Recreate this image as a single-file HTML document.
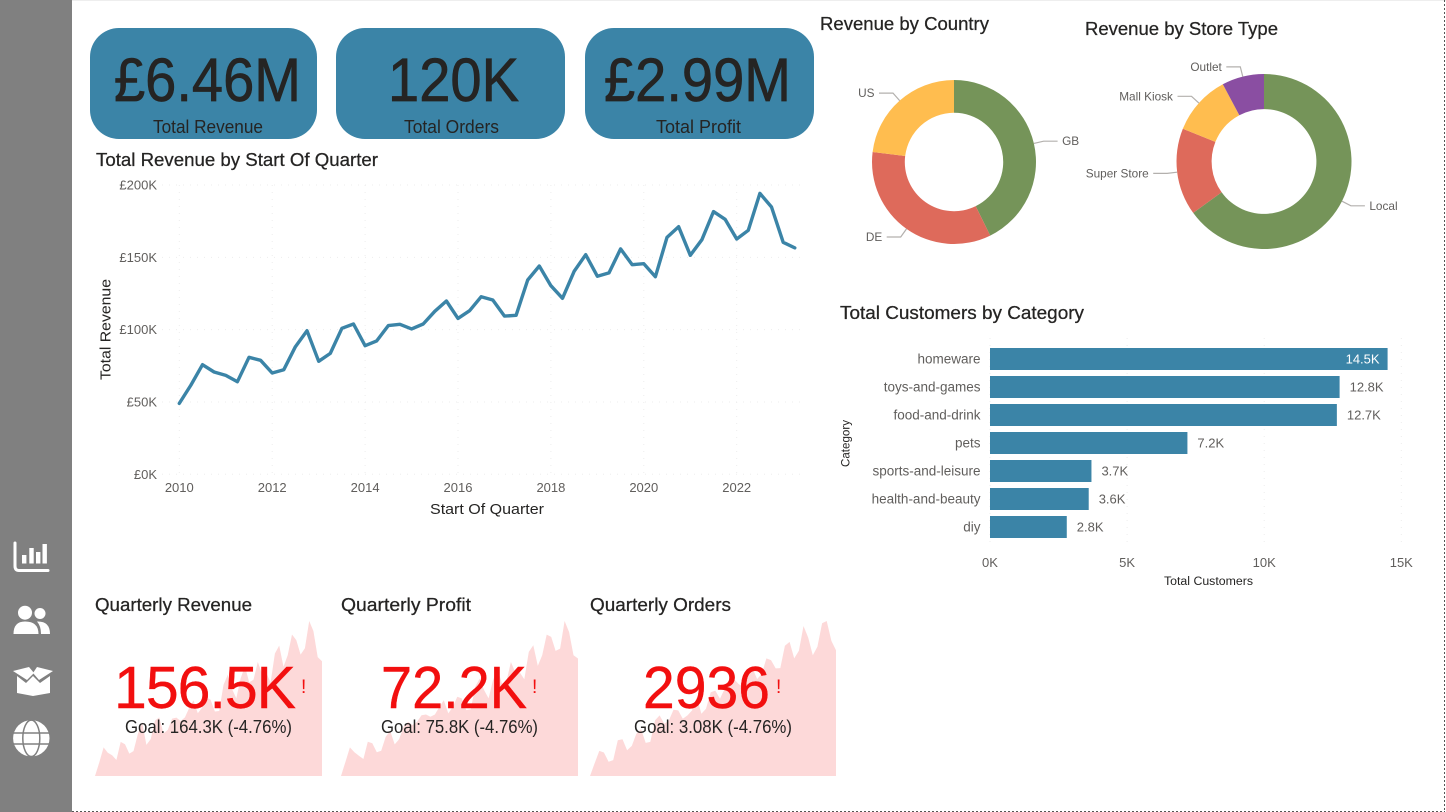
<!DOCTYPE html>
<html lang="en">
<head>
<meta charset="utf-8">
<title>Sales Dashboard</title>
<style>
html,body{margin:0;padding:0;background:#fff;width:1446px;height:812px;overflow:hidden}
svg{display:block;font-family:"Liberation Sans",Arial,sans-serif}
.title{font-size:18px;fill:#252423;stroke:#252423;stroke-width:.25px}
.tick{font-size:13px;fill:#605e5c}
.axis-title{font-size:15px;fill:#252423}
.card-value{font-size:61px;fill:#252423;stroke:#252423;stroke-width:.7px}
.card-label{font-size:18px;fill:#252423}
.kpi-value{font-size:59px;fill:#f20f0f;stroke:#f20f0f;stroke-width:.4px}
.kpi-goal{font-size:18px;fill:#252423}
.kpi-alert{font-size:19px;fill:#f20f0f}
.donut-label{font-size:11.8px;fill:#605e5c}
.cat-label{font-size:13.5px;fill:#605e5c}
</style>
</head>
<body>
<svg id="root" width="1446" height="812" viewBox="0 0 1446 812" xmlns="http://www.w3.org/2000/svg">
  <rect x="0" y="0" width="1446" height="812" fill="#ffffff"/>
  <rect x="72" y="0" width="1374" height="1" fill="#eeeeee"/>
  <rect x="0" y="0" width="72" height="812" fill="#808080"/>
  <line x1="72" y1="811.5" x2="1445" y2="811.5" stroke="#555" stroke-width="1" stroke-dasharray="2 2"/>
  <line x1="1444.5" y1="0" x2="1444.5" y2="812" stroke="#555" stroke-width="1" stroke-dasharray="2 2"/>

  <g>
    <path d="M15 543V566Q15 570.5 19 570.5H48" fill="none" stroke="#fff" stroke-width="3" stroke-linecap="round"/>
    <rect x="22" y="555" width="4.4" height="8.5" fill="#fff"/>
    <rect x="29.3" y="548" width="4.4" height="15.5" fill="#fff"/>
    <rect x="36" y="552" width="4.4" height="11.5" fill="#fff"/>
    <rect x="42.5" y="544" width="4.4" height="19.5" fill="#fff"/>
  </g>
  <g>
    <circle cx="40" cy="613.5" r="5.5" fill="#fff"/>
    <path d="M37 621.5Q50 621 50 634H41Q41 626 37 621.5Z" fill="#fff"/>
    <circle cx="25" cy="612.7" r="7" fill="#fff"/>
    <path d="M13.5 634Q13.5 621.5 25 621.5Q38.5 621.5 38.5 634Z" fill="#fff"/>
  </g>
  <g>
    <path d="M13 671L29 667L34 673L27 680Z" fill="#fff"/>
    <path d="M53 671L37 667L33 673L39 680Z" fill="#fff"/>
    <path d="M17 676L26 683L33 676L40 683L50 676V693L33 696L17 693Z" fill="#fff"/>
  </g>
  <g>
    <circle cx="31.3" cy="738.3" r="18.2" fill="#fff"/>
    <ellipse cx="31.3" cy="738.3" rx="8.5" ry="18.2" fill="none" stroke="#808080" stroke-width="1.5"/>
    <line x1="12" y1="733" x2="50" y2="733" stroke="#808080" stroke-width="1.5"/>
    <line x1="12" y1="744" x2="50" y2="744" stroke="#808080" stroke-width="1.5"/>
  </g>

  <rect x="90" y="28" width="227" height="111" rx="29" fill="#3b84a7"/>
  <rect x="336" y="28" width="229" height="111" rx="29" fill="#3b84a7"/>
  <rect x="585" y="28" width="229" height="111" rx="29" fill="#3b84a7"/>
  <text class="card-value" x="114" y="101" textLength="187" lengthAdjust="spacingAndGlyphs">£6.46M</text>
  <text class="card-value" x="388" y="101" textLength="131" lengthAdjust="spacingAndGlyphs">120K</text>
  <text class="card-value" x="604" y="101" textLength="187" lengthAdjust="spacingAndGlyphs">£2.99M</text>
  <text class="card-label" x="153" y="133" textLength="110" lengthAdjust="spacingAndGlyphs">Total Revenue</text>
  <text class="card-label" x="404" y="133" textLength="95" lengthAdjust="spacingAndGlyphs">Total Orders</text>
  <text class="card-label" x="656" y="133" textLength="85" lengthAdjust="spacingAndGlyphs">Total Profit</text>

  <text class="title" x="96" y="166" textLength="282" lengthAdjust="spacingAndGlyphs">Total Revenue by Start Of Quarter</text>
  <text class="title" x="820" y="30" textLength="169" lengthAdjust="spacingAndGlyphs">Revenue by Country</text>
  <text class="title" x="1085" y="35" textLength="193" lengthAdjust="spacingAndGlyphs">Revenue by Store Type</text>
  <text class="title" x="840" y="319" textLength="244" lengthAdjust="spacingAndGlyphs">Total Customers by Category</text>
  <text class="title" x="95" y="611" textLength="157" lengthAdjust="spacingAndGlyphs">Quarterly Revenue</text>
  <text class="title" x="341" y="611" textLength="130" lengthAdjust="spacingAndGlyphs">Quarterly Profit</text>
  <text class="title" x="590" y="611" textLength="141" lengthAdjust="spacingAndGlyphs">Quarterly Orders</text>

  <text class="axis-title" x="430" y="514" textLength="114" lengthAdjust="spacingAndGlyphs">Start Of Quarter</text>
  <text class="axis-title" transform="translate(110.5 380) rotate(-90)" textLength="101" lengthAdjust="spacingAndGlyphs">Total Revenue</text>
  <text x="1164" y="585" font-size="11.5" fill="#252423" textLength="89" lengthAdjust="spacingAndGlyphs">Total Customers</text>
  <text transform="translate(849.5 467) rotate(-90)" font-size="11.5" fill="#252423" textLength="47" lengthAdjust="spacingAndGlyphs">Category</text>

  <g id="line-chart"></g>
  <g id="donut-country"></g>
  <g id="donut-store"></g>
  <g id="bar-chart"></g>
  <g id="sparklines"></g>

  <text class="kpi-value" x="114" y="708" textLength="182" lengthAdjust="spacing">156.5K</text>
  <text class="kpi-value" x="381" y="708" textLength="146" lengthAdjust="spacingAndGlyphs">72.2K</text>
  <text class="kpi-value" x="643" y="708" textLength="127" lengthAdjust="spacingAndGlyphs">2936</text>
  <text class="kpi-alert" x="301" y="693">!</text>
  <text class="kpi-alert" x="532" y="693">!</text>
  <text class="kpi-alert" x="776" y="693">!</text>
  <text class="kpi-goal" x="125" y="733" textLength="167" lengthAdjust="spacingAndGlyphs">Goal: 164.3K (-4.76%)</text>
  <text class="kpi-goal" x="381" y="733" textLength="157" lengthAdjust="spacingAndGlyphs">Goal: 75.8K (-4.76%)</text>
  <text class="kpi-goal" x="634" y="733" textLength="158" lengthAdjust="spacingAndGlyphs">Goal: 3.08K (-4.76%)</text>
</svg>

<script>
const quarterlyRevenue = [49,61.7,75.8,70.7,68.4,64,80.9,78.8,70,72.3,88.2,99.3,78.1,83.6,100.9,103.9,88.9,92.2,102.8,103.7,100.5,103.9,112.7,119.8,107.8,113.1,122.8,120.5,109.4,109.9,134.3,144,130.4,121.7,140.3,151.8,136.9,139.2,155.8,144.9,145.6,136.6,163.8,171.2,151.4,162.2,181.6,176.3,162.7,168.7,194.2,184.8,160.4,156.5];
const quarterlyProfit = [21.2,27.4,33.6,31.5,30,28.6,36.1,35.4,31.5,32.2,38.2,40.8,34.9,37.2,42.6,44.7,43.3,44.7,47.6,47.9,46.9,47.9,51.2,54.1,48.4,51.2,55.6,54.9,49.8,50.1,59.9,63.5,58.5,54.9,62.8,67.8,61.3,62.4,70.7,66.1,66.1,63.2,75.1,78,69,73.6,82.6,81.6,75.5,76.5,88.5,83.7,73.6,72.2];
const quarterlyOrders = [940,1140,1339,1313,1166,1192,1508,1523,1350,1418,1613,1681,1466,1481,1823,1902,1770,1823,1991,1981,1849,1902,1981,2191,1928,2007,2270,2296,2165,2322,2454,2480,2401,2349,2638,2653,2480,2559,2806,2780,2648,2653,3006,3069,2806,2927,3321,3137,2858,2990,3363,3400,3084,2936];
const lineYearTicks = [2010,2012,2014,2016,2018,2020,2022];
const lineValueTicks = [0,50,100,150,200];
const lineValueLabels = ['£0K','£50K','£100K','£150K','£200K'];

const countryNames = ['GB','DE','US'];
const countryRevenue = [2.76,2.21,1.49];
const storeNames = ['Local','Super Store','Mall Kiosk','Outlet'];
const storeRevenue = [65,16.1,11.1,7.8];
const countryColors = ['#759459','#de6a5b','#ffbd4f'];
const storeColors = ['#759459','#de6a5b','#ffbd4f','#8a4ea2'];

const barCategories = ['homeware','toys-and-games','food-and-drink','pets','sports-and-leisure','health-and-beauty','diy'];
const barCustomers = [14.5,12.75,12.65,7.2,3.7,3.6,2.8];
const barValueLabels = ['14.5K','12.8K','12.7K','7.2K','3.7K','3.6K','2.8K'];
const barAxisTicks = [0,5,10,15];
const barAxisLabels = ['0K','5K','10K','15K'];

const NS = 'http://www.w3.org/2000/svg';
function make(tag, parent, props, text) {
  const el = document.createElementNS(NS, tag);
  for (const k in props) el.setAttribute(k, props[k]);
  if (text !== undefined) el.textContent = text;
  parent.appendChild(el);
  return el;
}

/* ---------- line chart ---------- */
const lineGroup = document.getElementById('line-chart');
const lineX = year => 179.3 + (year - 2010) * 46.45;
const lineY = v => 474.3 - v * 1.4465;
lineValueTicks.forEach((t, i) => {
  const grid = make('line', lineGroup, {x1:162, x2:805, y1:lineY(t), y2:lineY(t), stroke:'#ededed', 'stroke-width':1, 'stroke-dasharray':'1 6'});
  
  
  const lab = make('text', lineGroup, {class:'tick', x:157, y:lineY(t) + 4.5, 'text-anchor':'end'}, lineValueLabels[i]);
  
  
});
lineYearTicks.forEach(y => {
  const grid = make('line', lineGroup, {x1:lineX(y), x2:lineX(y), y1:lineY(200), y2:lineY(0), stroke:'#ededed', 'stroke-width':1, 'stroke-dasharray':'1 6'});
  
  
  const lab = make('text', lineGroup, {class:'tick', x:lineX(y), y:492, 'text-anchor':'middle'}, String(y));
  
  
});
const linePoints = quarterlyRevenue.map((v, i) => lineX(2010 + i / 4).toFixed(1) + ',' + lineY(v).toFixed(1)).join(' ');
const revenueLine = make('polyline', lineGroup, {points:linePoints, fill:'none', stroke:'#3b84a7', 'stroke-width':3.4, 'stroke-linejoin':'round', 'stroke-linecap':'round'});



/* ---------- donuts ---------- */
function drawDonut(group, names, values, colors, cx, cy, R, r) {
  const total = values.reduce((a, b) => a + b, 0);
  let start = 0;
  values.forEach((v, i) => {
    const sweep = v / total * Math.PI * 2;
    const end = start + sweep;
    const mid = start + sweep / 2;
    const large = sweep > Math.PI ? 1 : 0;
    const pt = (rad, a) => (cx + rad * Math.sin(a)).toFixed(2) + ' ' + (cy - rad * Math.cos(a)).toFixed(2);
    const d = 'M' + pt(R, start) + 'A' + R + ' ' + R + ' 0 ' + large + ' 1 ' + pt(R, end) +
              'L' + pt(r, end) + 'A' + r + ' ' + r + ' 0 ' + large + ' 0 ' + pt(r, start) + 'Z';
    const slice = make('path', group, {d:d, fill:colors[i]});
    
    

    const side = Math.sin(mid) >= 0 ? 1 : -1;
    const ex = cx + (R + 10) * Math.sin(mid);
    const ey = cy - (R + 10) * Math.cos(mid);
    const hx = ex + side * 14;
    const leader = make('polyline', group, {points:pt(R, mid).replace(' ', ',') + ' ' + ex.toFixed(1) + ',' + ey.toFixed(1) + ' ' + hx.toFixed(1) + ',' + ey.toFixed(1), fill:'none', stroke:'#b3b0ad', 'stroke-width':1.2});
    
    
    const label = make('text', group, {class:'donut-label', x:hx + side * 4.5, y:ey + 4, 'text-anchor':side > 0 ? 'start' : 'end'}, names[i]);
    
    
    start = end;
  });
}
drawDonut(document.getElementById('donut-country'), countryNames, countryRevenue, countryColors, 954, 162, 82, 49.2);
drawDonut(document.getElementById('donut-store'), storeNames, storeRevenue, storeColors, 1264, 161.5, 87.5, 52.4);

/* ---------- bar chart ---------- */
const barGroup = document.getElementById('bar-chart');
const barX = v => 990 + v * 27.42;
const barCenter = i => 359 + i * 28;
barAxisTicks.forEach((t, i) => {
  const grid = make('line', barGroup, {x1:barX(t), x2:barX(t), y1:338, y2:546, stroke:'#ededed', 'stroke-width':1, 'stroke-dasharray':'1 6'});
  
  
  const lab = make('text', barGroup, {class:'tick', x:barX(t), y:567, 'text-anchor':'middle'}, barAxisLabels[i]);
  
  
});
barCategories.forEach((c, i) => {
  const cy = barCenter(i);
  const lab = make('text', barGroup, {class:'cat-label', x:980.5, y:cy + 4.5, 'text-anchor':'end'}, c);
  
  
  const bar = make('rect', barGroup, {x:barX(0), y:cy - 11, width:barX(barCustomers[i]) - barX(0), height:22, fill:'#3b84a7'});
  
  
  const end = barX(barCustomers[i]);
  const inside = end + 45 > barX(15);
  const val = make('text', barGroup, {x:inside ? end - 8 : end + 10, y:cy + 4.5, 'font-size':13, fill:inside ? '#ffffff' : '#605e5c', 'text-anchor':inside ? 'end' : 'start'}, barValueLabels[i]);
  
  
});

/* ---------- KPI sparklines ---------- */
const sparkGroup = document.getElementById('sparklines');
function drawSpark(values, left, width, name) {
  const lo = Math.min.apply(null, values);
  const hi = Math.max.apply(null, values);
  const sx = i => left + i * width / (values.length - 1);
  const sy = v => 776 - (v - lo) / (hi - lo) * 155;
  let d = 'M' + left + ' 776';
  values.forEach((v, i) => { d += 'L' + sx(i).toFixed(1) + ' ' + sy(v).toFixed(1); });
  d += 'L' + (left + width) + ' 776Z';
  const area = make('path', sparkGroup, {d:d, fill:'#fdd9d9'});
  
  
}
drawSpark(quarterlyRevenue, 95, 227, 'quarterly-revenue-sparkline');
drawSpark(quarterlyProfit, 341, 237, 'quarterly-profit-sparkline');
drawSpark(quarterlyOrders, 590, 246, 'quarterly-orders-sparkline');
</script>
</body>
</html>
